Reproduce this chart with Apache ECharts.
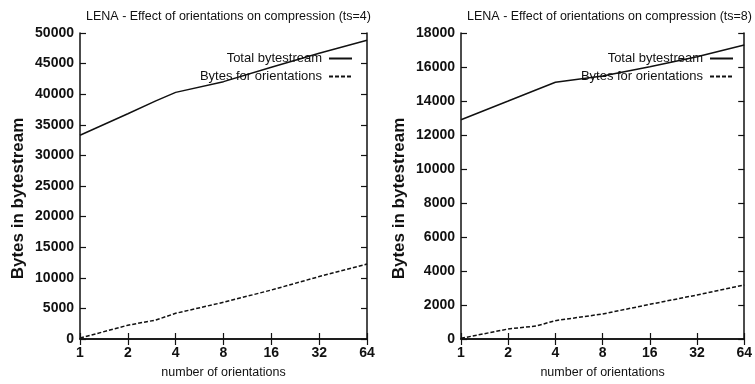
<!DOCTYPE html>
<html><head><meta charset="utf-8">
<script src="https://cdn.jsdelivr.net/npm/echarts@6/dist/echarts.min.js"></script>
<style>html,body{margin:0;padding:0;background:#fff}#c{width:755px;height:384px}</style>
</head><body><div id="c"></div>
<script>
var orientations = [1, 2, 3, 4, 8, 16, 32, 64];
var ts4Total = [33300, 36800, 38900, 40300, 42050, 44400, 46700, 48800];
var ts4Orient = [150, 2250, 3100, 4200, 6000, 8000, 10200, 12250];
var ts8Total = [12900, 14000, 14650, 15100, 15470, 16020, 16600, 17290];
var ts8Orient = [40, 590, 760, 1080, 1470, 2040, 2590, 3180];
var titles = ['LENA - Effect of orientations on compression (ts=4)', 'LENA - Effect of orientations on compression (ts=8)'];
var seriesNames = ['Total bytestream', 'Bytes for orientations'];
var xName = 'number of orientations';
var yName = 'Bytes in bytestream';

var FONT = '"Liberation Sans", Arial, sans-serif';
var INK = '#111';
function pairs(ys){ return orientations.map(function(x,i){ return [x, ys[i]]; }); }

var grids = [
  {left: 80, top: 33, width: 287, height: 306},
  {left: 461, top: 33, width: 287, height: 306}
];
var yMax = [50000, 18000], yInt = [5000, 2000];
var xAxes = [], yAxes = [], series = [], titleArr = [], legends = [];
grids.forEach(function(g, i){
  var tick = {show: true, inside: true, length: 6, lineStyle: {color: INK, width: 1.2}};
  xAxes.push({type: 'log', logBase: 2, min: 1, max: 64, gridIndex: i, position: 'bottom',
    axisLine: {lineStyle: {color: INK, width: 1.5}}, axisTick: tick, splitLine: {show: false},
    axisLabel: {color: INK, fontFamily: FONT, fontSize: 14, fontWeight: 'bold', margin: 7, formatter: function(v){ return String(Math.round(v)); }},
    name: xName, nameLocation: 'middle', nameGap: 27,
    nameTextStyle: {color: INK, fontFamily: FONT, fontSize: 12.5}});
  xAxes.push({type: 'log', logBase: 2, min: 1, max: 64, gridIndex: i, position: 'top',
    axisLine: {lineStyle: {color: INK, width: 1.5}}, axisTick: tick, splitLine: {show: false},
    axisLabel: {show: false}});
  yAxes.push({type: 'value', min: 0, max: yMax[i], interval: yInt[i], gridIndex: i, position: 'left',
    axisLine: {show: true, lineStyle: {color: INK, width: 1.5}}, axisTick: tick, splitLine: {show: false},
    axisLabel: {color: INK, fontFamily: FONT, fontSize: 14, fontWeight: 'bold', margin: 6, formatter: function(v){ return String(v); }},
    name: yName, nameLocation: 'middle', nameGap: 53,
    nameTextStyle: {color: INK, fontFamily: FONT, fontSize: 17, fontWeight: 'bold', padding: [0, 25, 0, 0]}});
  yAxes.push({type: 'value', min: 0, max: yMax[i], interval: yInt[i], gridIndex: i, position: 'right',
    axisLine: {show: true, lineStyle: {color: INK, width: 1.5}}, axisTick: tick, splitLine: {show: false},
    axisLabel: {show: false}});
  titleArr.push({text: titles[i], left: g.left + g.width / 2, textAlign: 'center', top: 5,
    textStyle: {color: INK, fontFamily: FONT, fontSize: 12.5, fontWeight: 'normal'}});
  legends.push({orient: 'vertical', align: 'right', right: 755 - (g.left + g.width - 14), top: 52, padding: 0,
    itemWidth: 23, itemHeight: 2, itemGap: 5, data: seriesNames,
    itemStyle: {color: 'transparent', borderColor: 'transparent', borderWidth: 0, opacity: 0},
    textStyle: {color: INK, fontFamily: FONT, fontSize: 13, padding: [0, 2, 0, 0]}});
});
var dataSets = [[ts4Total, ts4Orient], [ts8Total, ts8Orient]];
dataSets.forEach(function(ds, i){
  series.push({name: seriesNames[0], type: 'line', xAxisIndex: 2 * i, yAxisIndex: 2 * i,
    data: pairs(ds[0]), symbol: 'none', lineStyle: {color: INK, width: 1.5, type: 'solid'}, itemStyle: {color: INK}});
  series.push({name: seriesNames[1], type: 'line', xAxisIndex: 2 * i, yAxisIndex: 2 * i,
    data: pairs(ds[1]), symbol: 'none', lineStyle: {color: INK, width: 1.5, type: [4, 2]}, itemStyle: {color: INK}});
});
var chart = echarts.init(document.getElementById('c'), null, {renderer: 'canvas'});
chart.setOption({animation: false, backgroundColor: '#fff', title: titleArr, legend: legends,
  grid: grids, xAxis: xAxes, yAxis: yAxes, series: series});
</script></body></html>
